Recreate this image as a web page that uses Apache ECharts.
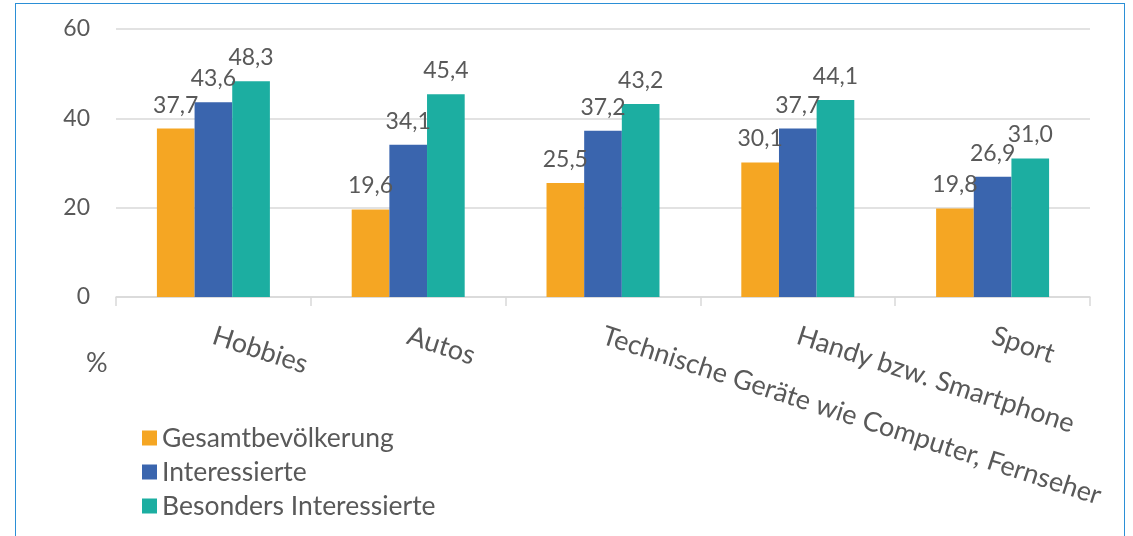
<!DOCTYPE html>
<html>
<head>
<meta charset="utf-8">
<script src="https://cdn.jsdelivr.net/npm/echarts@6/dist/echarts.min.js"></script>
<style>
  html, body { margin: 0; padding: 0; background: #ffffff; }
  #frame { position: absolute; left: 15px; top: 3px; width: 1110px; height: 560px; border: 1.5px solid #2b8fd6; box-sizing: border-box; }
  #chart { position: absolute; left: 0; top: 0; width: 1133px; height: 536px; }
</style>
</head>
<body>
<div id="frame"></div>
<div id="chart"></div>
<script>
const categories = ['Hobbies', 'Autos', 'Technische Geräte wie Computer, Fernseher', 'Handy bzw. Smartphone', 'Sport']
const gesamt = [37.7, 19.6, 25.5, 30.1, 19.8]
const interessierte = [43.6, 34.1, 37.2, 37.7, 26.9]
const besonders = [48.3, 45.4, 43.2, 44.1, 31.0]
const seriesNames = ['Gesamtbevölkerung', 'Interessierte', 'Besonders Interessierte']

const textColor = '#595959'
const font = 'Lato, "Open Sans", sans-serif'

const chart = echarts.init(document.getElementById('chart'))

function bar(name, data, color) {
  return {
    name,
    type: 'bar',
    data,
    barGap: '0%',
    barCategoryGap: '42%',
    itemStyle: { color },
    label: {
      show: true,
      position: 'top',
      distance: 12,
      color: textColor,
      fontSize: 23,
      fontFamily: font,
      formatter: p => p.value.toFixed(1).replace('.', ',')
    }
  }
}

chart.setOption({
  backgroundColor: 'transparent',
  animation: false,
  textStyle: { fontFamily: font },
  grid: { left: 116, right: 43, top: 29, bottom: 239 },
  legend: {
    orient: 'vertical',
    left: 137,
    top: 419,
    itemWidth: 15,
    itemHeight: 15,
    itemGap: 6,
    icon: 'rect',
    textStyle: { color: textColor, fontSize: 26.5, lineHeight: 28, fontFamily: font },
    data: seriesNames
  },
  graphic: [{
    type: 'text',
    left: 86,
    top: 350,
    style: { text: '%', fill: textColor, fontSize: 27, fontFamily: font }
  }],
  xAxis: {
    type: 'category',
    data: categories,
    axisLine: { lineStyle: { color: '#d9d9d9', width: 1.5 } },
    axisTick: { show: true, length: 9, lineStyle: { color: '#d9d9d9', width: 1.5 } },
    axisLabel: {
      rotate: -18,
      margin: 38,
      color: textColor,
      fontSize: 27,
      fontFamily: font,
      interval: 0
    }
  },
  yAxis: {
    type: 'value',
    min: 0,
    max: 60,
    interval: 20,
    axisLine: { show: false },
    axisTick: { show: false },
    axisLabel: { margin: 26, color: textColor, fontSize: 23, fontFamily: font },
    splitLine: { lineStyle: { color: '#d9d9d9', width: 1.5 } }
  },
  series: [
    bar(seriesNames[0], gesamt, '#f5a623'),
    bar(seriesNames[1], interessierte, '#3a65ae'),
    bar(seriesNames[2], besonders, '#1caea1')
  ]
})
</script>
</body>
</html>
